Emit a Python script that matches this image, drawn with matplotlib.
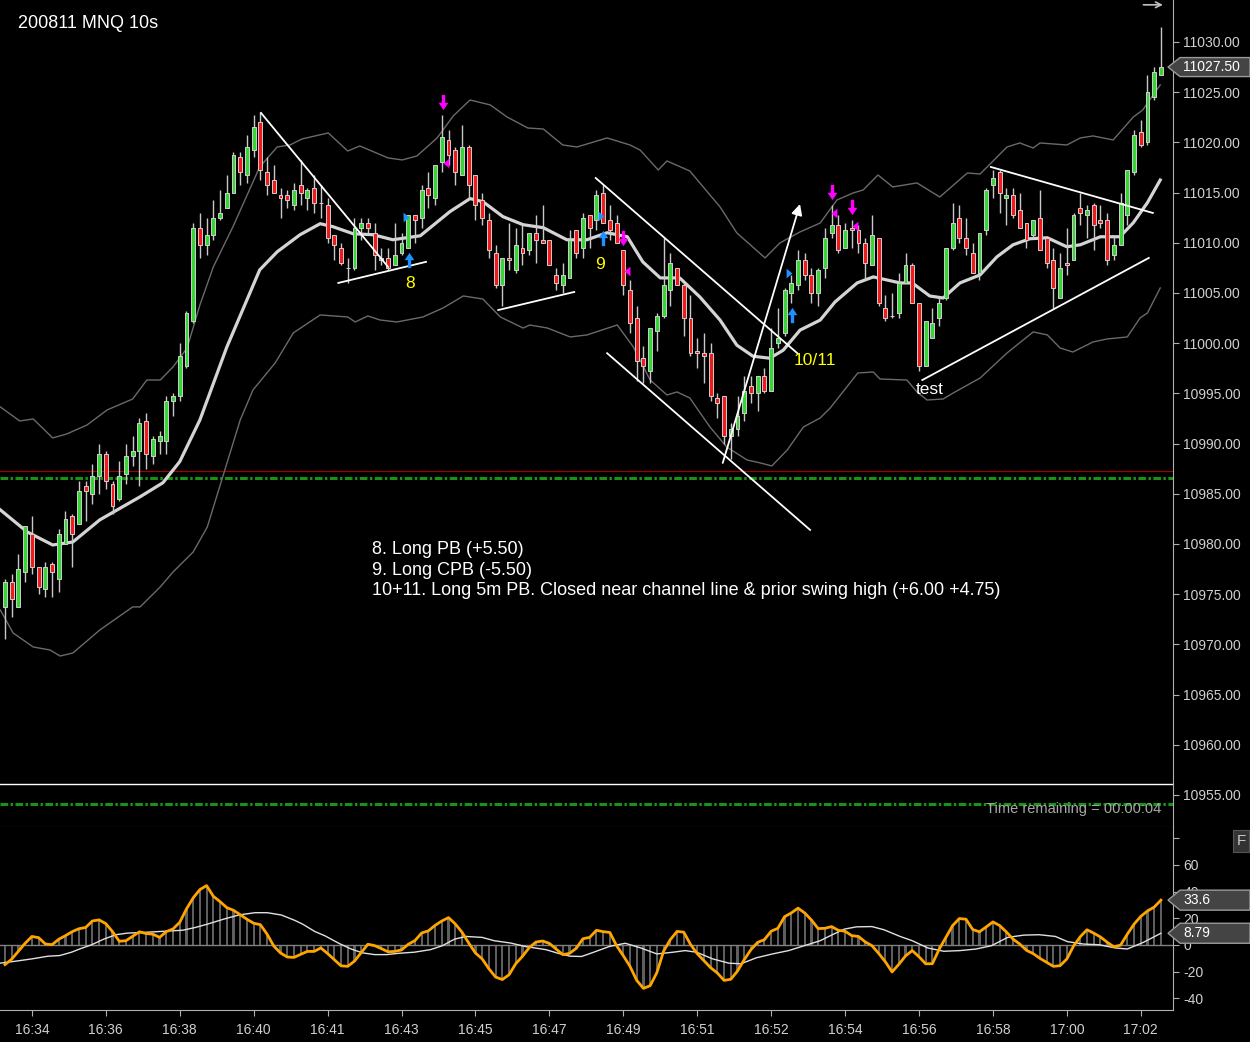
import numpy as np
import matplotlib
matplotlib.use("Agg")
from matplotlib import pyplot as plt
from matplotlib.path import Path
from matplotlib.patches import Polygon, Rectangle
from matplotlib import transforms as mtrans

plt.rcParams['font.family'] = ['Liberation Sans', 'DejaVu Sans']

# 10 second bars, MNQ, 200811
opens = [10973.75, 10976.25, 10973.75, 10977.25, 10981.0, 10977.75, 10975.5, 10978.0, 10976.5, 10980.0,
         10982.75, 10982.0, 10985.75, 10985.0, 10986.75, 10989.0, 10986.0, 10984.5, 10987.0, 10988.75,
         10989.25, 10992.25, 10988.75, 10990.25, 10990.25, 10994.25, 10994.75, 10997.75, 11002.25, 11011.5,
         11009.75, 11010.75, 11012.5, 11013.5, 11015.0, 11018.5, 11016.75, 11019.25, 11022.0, 11017.0,
         11016.25, 11014.75, 11014.75, 11013.75, 11015.75, 11014.5, 11015.5, 11014.0, 11013.75, 11010.75,
         11009.5, 11007.5, 11007.5, 11011.5, 11012.0, 11011.0, 11008.25, 11008.5, 11007.75, 11009.0,
         11009.5, 11012.75, 11012.5, 11015.5, 11014.5, 11018.0, 11020.25, 11019.25, 11016.75, 11019.5,
         11016.75, 11014.25, 11012.25, 11009.0, 11005.75, 11008.5, 11007.25, 11009.5, 11009.25, 11011.0,
         11010.25, 11010.25, 11006.75, 11005.75, 11006.5, 11011.25, 11009.5, 11012.75, 11012.25, 11015.0,
         11012.25, 11012.0, 11009.25, 11005.25, 11002.5, 10998.5, 10997.25, 11001.25, 11002.75, 11005.25,
         11007.5, 11005.75, 11002.5, 10999.25, 10999.0, 10999.0, 10994.5, 10994.75, 10990.75, 10991.5,
         10993.0, 10995.75, 10995.0, 10996.75, 10995.25, 11000.0, 11001.0, 11005.0, 11005.75, 11008.25,
         11006.75, 11005.0, 11007.5, 11011.0, 11011.75, 11009.5, 11011.5, 11011.25, 11010.0, 11007.75,
         11010.5, 11003.5, 11002.75, 11003.0, 11006.0, 11007.75, 11004.0, 10997.75, 11000.5, 11002.5,
         11004.5, 11009.5, 11012.5, 11010.5, 11009.0, 11007.0, 11011.25, 11015.75, 11017.0, 11014.5,
         11014.75, 11013.25, 11012.0, 11010.75, 11012.5, 11010.5, 11008.25, 11004.5, 11008.0, 11008.25,
         11013.5, 11012.75, 11013.75, 11012.25, 11012.25, 11008.75, 11009.75, 11012.75, 11017.0, 11021.0,
         11020.0, 11024.5, 11026.75]
highs = [10976.5, 10977.0, 10979.0, 10981.75, 10982.75, 10977.75, 10978.25, 10978.25, 10981.5, 10983.25,
         10983.0, 10986.25, 10986.25, 10988.0, 10990.0, 10989.25, 10986.25, 10988.25, 10990.0, 10990.75,
         10992.5, 10993.0, 10990.75, 10991.25, 10994.75, 10995.0, 11000.0, 11003.25, 11012.0, 11013.0,
         11012.5, 11014.25, 11015.25, 11016.75, 11019.0, 11019.0, 11020.75, 11022.75, 11023.0, 11018.5,
         11017.75, 11015.5, 11015.25, 11016.0, 11018.25, 11015.5, 11016.75, 11015.75, 11014.5, 11010.75,
         11010.0, 11008.5, 11012.5, 11012.5, 11012.5, 11012.0, 11009.5, 11009.5, 11012.0, 11011.0,
         11012.75, 11012.75, 11015.75, 11017.0, 11017.75, 11022.75, 11021.25, 11019.5, 11021.75, 11019.75,
         11016.75, 11015.0, 11013.0, 11009.75, 11008.5, 11012.0, 11011.5, 11011.75, 11011.0, 11012.75,
         11013.75, 11010.25, 11007.5, 11008.0, 11011.25, 11011.25, 11013.0, 11012.75, 11015.25, 11015.75,
         11013.75, 11012.75, 11009.25, 11006.25, 11003.75, 10999.75, 11001.5, 11003.0, 11010.5, 11009.0,
         11007.5, 11006.0, 11004.75, 11000.5, 11001.0, 11000.0, 10995.0, 10994.75, 10992.0, 10994.75,
         10996.75, 10996.75, 10996.75, 10997.5, 11001.5, 11003.5, 11005.5, 11006.75, 11009.25, 11009.0,
         11007.5, 11007.5, 11011.5, 11013.75, 11012.75, 11012.0, 11012.25, 11011.75, 11010.5, 11012.75,
         11010.5, 11004.75, 11005.0, 11007.0, 11009.0, 11008.0, 11004.0, 11002.25, 11003.5, 11004.5,
         11009.5, 11014.0, 11013.75, 11012.5, 11010.0, 11011.0, 11015.5, 11017.25, 11017.25, 11015.5,
         11015.5, 11015.0, 11012.0, 11012.25, 11015.25, 11010.5, 11009.5, 11009.0, 11011.5, 11013.0,
         11015.0, 11013.75, 11014.0, 11013.75, 11013.0, 11010.75, 11015.0, 11017.25, 11021.25, 11022.25,
         11026.75, 11027.5, 11031.5]
lows = [10970.5, 10972.75, 10973.75, 10976.25, 10977.0, 10975.0, 10974.75, 10974.75, 10975.25, 10980.0,
        10977.75, 10982.0, 10982.25, 10984.0, 10985.0, 10985.5, 10983.0, 10984.25, 10986.0, 10987.75,
        10985.75, 10987.5, 10988.0, 10989.0, 10989.0, 10992.75, 10994.25, 10997.5, 11002.0, 11008.5,
        11008.75, 11010.25, 11012.25, 11013.5, 11015.0, 11015.75, 11016.0, 11018.5, 11016.25, 11014.75,
        11015.0, 11012.5, 11013.5, 11013.25, 11013.75, 11013.25, 11013.0, 11012.5, 11010.0, 11008.25,
        11007.75, 11006.0, 11007.25, 11010.25, 11011.0, 11007.25, 11007.75, 11007.25, 11007.75, 11008.75,
        11009.5, 11010.0, 11011.5, 11013.5, 11013.75, 11017.0, 11017.75, 11015.75, 11016.75, 11014.5,
        11012.25, 11011.75, 11008.5, 11005.5, 11003.75, 11007.25, 11007.0, 11007.75, 11008.75, 11008.0,
        11010.0, 11007.75, 11005.25, 11005.0, 11006.5, 11008.5, 11008.5, 11009.5, 11011.25, 11012.0,
        11010.25, 11010.0, 11004.75, 11001.0, 10996.25, 10996.0, 10996.0, 10999.25, 11002.5, 11003.75,
        11005.75, 11000.75, 10998.75, 10997.5, 10996.0, 10994.25, 10992.5, 10990.0, 10988.5, 10990.75,
        10992.25, 10994.0, 10993.25, 10995.0, 10995.25, 10999.5, 11000.75, 11004.0, 11005.25, 11006.25,
        11004.0, 11003.75, 11006.5, 11010.5, 11009.0, 11009.5, 11009.5, 11009.0, 11006.25, 11007.75,
        11003.75, 11002.25, 11002.5, 11002.5, 11006.0, 11004.0, 10997.25, 10997.75, 11000.5, 11001.75,
        11004.25, 11009.25, 11010.0, 11008.75, 11007.0, 11006.25, 11010.75, 11014.5, 11013.0, 11011.75,
        11012.5, 11011.5, 11009.5, 11010.5, 11009.25, 11007.5, 11003.5, 11004.5, 11006.75, 11008.25,
        11011.75, 11010.5, 11009.25, 11011.5, 11007.75, 11008.25, 11009.75, 11011.75, 11016.75, 11019.5,
        11019.75, 11024.25, 11026.75]
closes = [10976.25, 10974.5, 10977.5, 10981.75, 10977.75, 10975.75, 10977.75, 10977.25, 10981.0, 10982.5,
          10981.0, 10985.25, 10985.25, 10986.75, 10989.0, 10986.25, 10983.75, 10986.75, 10988.75, 10989.25,
          10992.0, 10989.0, 10990.5, 10990.75, 10994.25, 10994.75, 10998.75, 11003.0, 11011.5, 11009.75,
          11010.75, 11012.5, 11013.0, 11015.0, 11018.75, 11017.0, 11019.5, 11021.5, 11017.25, 11015.75,
          11015.0, 11014.5, 11014.25, 11015.25, 11015.0, 11015.25, 11014.0, 11014.0, 11010.5, 11009.75,
          11008.0, 11007.5, 11011.5, 11012.0, 11011.5, 11008.75, 11008.5, 11007.5, 11008.75, 11010.0,
          11012.75, 11012.25, 11015.25, 11014.75, 11017.75, 11020.5, 11018.75, 11017.0, 11019.5, 11015.75,
          11013.75, 11012.5, 11009.25, 11005.75, 11008.5, 11008.25, 11009.75, 11009.0, 11011.0, 11010.25,
          11010.0, 11007.75, 11006.0, 11006.75, 11010.25, 11009.0, 11012.5, 11011.5, 11014.75, 11012.0,
          11011.25, 11010.0, 11005.75, 11002.0, 10998.25, 10997.75, 11001.5, 11002.75, 11005.75, 11008.0,
          11005.75, 11002.5, 10999.0, 10999.0, 10998.75, 10994.75, 10994.0, 10990.75, 10991.5, 10992.75,
          10995.25, 10995.0, 10996.75, 10995.25, 10999.5, 11000.5, 11005.25, 11006.0, 11008.25, 11006.75,
          11005.0, 11007.25, 11010.5, 11011.75, 11009.25, 11011.25, 11011.25, 11010.0, 11008.0, 11010.75,
          11004.0, 11002.5, 11002.75, 11006.0, 11007.75, 11004.0, 10997.75, 11002.25, 11002.0, 11004.0,
          11009.5, 11012.0, 11010.5, 11009.5, 11007.0, 11011.0, 11015.25, 11016.5, 11015.0, 11014.75,
          11012.75, 11011.5, 11010.25, 11012.25, 11009.25, 11008.0, 11005.5, 11007.5, 11007.75, 11012.75,
          11013.0, 11013.25, 11011.75, 11012.0, 11008.25, 11009.75, 11014.0, 11017.25, 11020.75, 11019.75,
          11025.0, 11027.0, 11027.5]

# moving average and bands, read at points along the lines (bar index, price)
ema_idx = [-0.7, 3.3, 7.1, 10.1, 14.1, 20.1, 23.5, 26.0, 29.0, 33.0, 37.9, 40.5, 43.9, 46.9, 48.8,
           51.8, 54.8, 57.7, 61.8, 66.2, 69.2, 71.1, 74.1, 77.1, 80.1, 83.6, 86.6, 89.6, 92.6, 94.9,
           97.5, 100.4, 103.4, 106.4, 108.9, 111.3, 113.8, 115.8, 118.3, 121.3, 123.5, 126.8, 129.2, 131.2, 133.2,
           135.0, 137.6, 139.6, 142.1, 145.1, 147.6, 150.0, 152.5, 155.1, 158.0, 160.0, 163.0, 165.9, 167.9, 170.0,
           171.9]
ema_val = [10983.4, 10981.2, 10979.9, 10980.2, 10982.4, 10984.7, 10986.1, 10988.2, 10992.35, 10999.6,
           11007.3, 11009.1, 11010.8, 11011.9, 11011.6, 11010.9, 11010.8, 11010.3, 11010.7, 11013.1,
           11014.4, 11014.1, 11012.6, 11011.8, 11011.5, 11010.3, 11010.3, 11011.0, 11010.6, 11008.1,
           11006.5, 11006.5, 11004.6, 11002.3, 10999.8, 10998.7, 10998.5, 10999.3, 11001.3, 11002.3,
           11004.1, 11006.0, 11006.6, 11006.3, 11006.0, 11006.0, 11004.7, 11004.5, 11006.0, 11006.8,
           11008.6, 11009.8, 11010.4, 11010.5, 11009.6, 11009.8, 11010.6, 11010.6, 11012.0, 11014.0,
           11016.25]
upper_idx = [-0.7, 2.2, 4.2, 7.1, 9.2, 12.2, 15.2, 19.0, 21.1, 23.1, 25.0, 27.1, 29.0, 31.0, 33.9,
             37.9, 40.5, 42.4, 44.2, 48.1, 51.0, 52.8, 57.0, 59.1, 61.3, 64.3, 66.7, 69.2, 72.2, 74.7,
             77.8, 80.1, 83.0, 85.1, 89.6, 93.0, 94.5, 97.2, 98.5, 101.9, 106.4, 108.9, 113.1, 115.3, 118.3,
             121.3, 123.8, 126.2, 127.7, 129.9, 132.1, 135.7, 139.1, 143.2, 145.1, 149.1, 151.0, 153.0, 154.0, 158.0,
             160.0, 161.9, 164.9, 167.9, 169.3, 171.9]
upper_val = [10993.65, 10992.25, 10992.45, 10990.56, 10990.96, 10991.85, 10993.35, 10994.44, 10996.33, 10996.33,
             10997.63, 10999.52, 11003.8, 11007.6, 11011.57, 11017.55, 11019.54, 11019.74, 11020.34, 11020.94,
             11019.14, 11019.64, 11018.45, 11018.25, 11018.65, 11020.44, 11022.63, 11024.22, 11023.73, 11022.53,
             11021.43, 11021.33, 11019.74, 11019.54, 11020.44, 11019.74, 11019.24, 11017.25, 11018.15, 11017.15,
             11013.57, 11010.98, 11008.49, 11009.98, 11011.08, 11011.97, 11014.26, 11014.96, 11015.26, 11016.75,
             11015.56, 11015.96, 11014.56, 11016.95, 11016.85, 11019.54, 11019.94, 11019.44, 11019.94, 11019.74,
             11020.44, 11020.64, 11020.24, 11022.53, 11023.23, 11025.72]
lower_idx = [-0.7, 1.2, 4.2, 6.7, 8.2, 10.1, 14.1, 19.0, 20.1, 23.1, 25.0, 28.0, 30.1, 35.0, 36.9,
             40.2, 42.9, 46.9, 51.0, 52.1, 54.0, 55.8, 58.3, 62.2, 65.2, 68.2, 71.1, 73.7, 77.1, 78.1,
             80.7, 84.1, 86.6, 91.1, 93.5, 96.0, 98.5, 100.0, 101.9, 104.9, 107.4, 110.4, 112.4, 114.1, 116.4,
             118.8, 121.3, 122.8, 126.9, 129.2, 130.2, 134.2, 135.7, 137.2, 139.6, 141.1, 145.1, 149.1, 153.0, 155.1,
             157.0, 158.9, 160.4, 161.9, 164.0, 167.0, 168.9, 170.0, 171.9]
lower_val = [10973.43, 10971.14, 10969.74, 10969.44, 10968.84, 10969.14, 10971.43, 10973.73, 10973.73, 10975.72,
             10977.21, 10979.2, 10981.69, 10992.35, 10995.34, 10998.03, 11001.02, 11002.81, 11002.61, 11002.11,
             11002.71, 11002.31, 11002.11, 11002.61, 11003.51, 11004.7, 11004.4, 11002.61, 11001.51, 11001.81,
             11001.51, 11000.62, 11000.82, 11001.81, 10999.62, 10996.33, 10994.84, 10995.14, 10994.54, 10991.65,
             10989.66, 10988.37, 10988.07, 10987.77, 10989.36, 10991.65, 10992.55, 10993.55, 10997.03, 10997.13,
             10996.43, 10996.33, 10995.14, 10994.34, 10994.44, 10995.04, 10996.53, 10999.02, 11001.12, 11000.82,
             10999.52, 10999.12, 10999.62, 11000.12, 11000.42, 11000.62, 11002.51, 11003.01, 11005.5]

# oscillator, one value per bar, and its signal line
osc_vals = [-14.7, -10.6, -4.6, 1.3, 6.4, 5.5, 0.8, 0.2, 4.3, 7.0,
            10.0, 12.2, 13.1, 18.0, 18.8, 16.0, 10.0, 2.8, 3.2, 6.6,
            9.9, 8.6, 8.1, 5.7, 10.0, 12.0, 17.0, 27.0, 35.3, 41.5,
            44.5, 36.5, 32.5, 28.0, 26.0, 22.7, 19.3, 16.3, 15.2, 8.1,
            -0.8, -6.0, -9.0, -9.3, -7.0, -4.8, -4.8, -2.2, -6.4, -11.0,
            -15.6, -16.0, -12.1, -5.8, 0.6, -0.5, -2.7, -5.1, -4.8, -3.7,
            0.5, 3.3, 9.0, 10.6, 14.7, 18.0, 20.5, 15.8, 9.6, 1.5,
            -6.0, -10.4, -17.8, -24.0, -25.9, -22.3, -14.0, -8.5, -2.0, 2.2,
            3.0, 1.2, -3.0, -7.2, -6.3, -2.5, 4.7, 5.7, 11.0, 10.0,
            9.4, -0.5, -8.0, -16.0, -26.5, -32.5, -30.5, -20.7, -4.6, 4.0,
            10.2, 9.6, 0.5, -6.5, -11.8, -17.0, -21.0, -26.5, -25.7, -19.5,
            -11.0, -3.5, 2.0, 4.0, 10.3, 12.5, 21.2, 24.0, 27.6, 24.0,
            18.7, 12.3, 12.5, 13.8, 11.0, 10.3, 7.0, 6.4, 2.3, -0.5,
            -6.3, -12.6, -20.2, -14.5, -8.2, -4.2, -8.8, -14.1, -14.0, -3.2,
            5.7, 14.5, 19.8, 19.3, 11.6, 9.9, 13.5, 17.3, 14.6, 9.8,
            4.4, 0.7, -4.0, -6.5, -10.0, -13.0, -16.0, -15.5, -10.5, -0.8,
            6.2, 11.4, 8.9, 6.0, 2.1, -1.4, -0.1, 8.1, 15.6, 21.4,
            25.5, 28.4, 33.6]
sig_idx = [-0.74, 1.63, 4.0, 6.4, 8.15, 9.9, 11.1, 12.9, 14.7, 16.5, 18.2, 20.6, 23.0, 24.8, 26.5,
           28.3, 30.1, 32.5, 34.8, 37.2, 39.0, 41.1, 43.1, 44.3, 46.1, 47.6, 49.7, 51.5, 53.2, 55.0,
           56.8, 58.6, 60.9, 63.3, 65.1, 66.9, 68.6, 71.0, 72.8, 75.2, 77.5, 80.5, 82.3, 84.1, 85.8,
           87.6, 90.0, 92.3, 94.6, 97.0, 99.4, 101.2, 102.9, 105.3, 107.7, 109.5, 111.8, 114.2, 116.6, 118.95,
           121.3, 123.1, 124.9, 126.7, 129.0, 130.8, 133.2, 135.0, 137.3, 139.7, 142.1, 144.5, 146.8, 149.2,
           151.6, 153.9, 156.3, 158.1, 160.5, 162.8, 165.2, 167.0, 169.4, 172.0]
sig_val = [-13.6, -12.1, -10.4, -8.4, -7.9, -5.4, -3.0, 0.2, 4.4, 7.7, 8.9, 9.4, 10.1, 10.6, 11.1,
           13.1, 15.6, 19.3, 22.5, 24.2, 24.2, 22.5, 18.5, 15.6, 10.1, 6.9, 1.2, -3.0, -5.9, -7.2,
           -7.2, -6.2, -5.4, -3.5, -0.5, 4.4, 6.4, 5.7, 3.2, 1.5, -1.2, -3.5, -6.2, -8.4, -8.6,
           -5.4, -1.0, 1.3, -2.2, -6.7, -5.4, -4.2, -5.4, -10.4, -13.6, -14.1, -9.6, -6.7, -4.2, -0.5,
           3.2, 7.7, 11.9, 13.6, 13.8, 11.4, 6.4, 3.2, -2.2, -4.7, -4.2, -3.0, -0.5, 5.7,
           7.4, 7.7, 6.4, 2.5, 0.7, 0.2, -2.2, -3.0, 2.0, 8.79]

time_idx = [4, 15, 26, 37, 48, 59, 70, 81, 92, 103, 114, 125, 136, 147, 158, 169]
time_labels = ['16:34', '16:36', '16:38', '16:40', '16:41', '16:43', '16:45', '16:47',
               '16:49', '16:51', '16:52', '16:54', '16:56', '16:58', '17:00', '17:02']

# drawn trend lines (bar index, price)
trend_x0 = [38.1, 49.6, 73.4, 87.9, 89.6, 146.7, 136.5]
trend_y0 = [11022.93, 11006.0, 11003.3, 11016.45, 10999.0, 11017.55, 10996.33]
trend_x1 = [57.0, 62.65, 84.7, 117.9, 119.8, 170.8, 170.2]
trend_y1 = [11007.6, 11008.1, 11005.1, 10999.0, 10981.4, 11012.97, 11008.49]

# signal markers
sell_idx = [65.2, 92.0, 123.1, 126.0]
sell_px = [11024.0, 11010.5, 11015.1, 11013.6]
sell_tri_idx = [65.6, 92.6, 123.4, 126.5]
sell_tri_px = [11017.95, 11007.2, 11012.97, 11011.67]
buy_idx = [60.1, 89.0, 117.1]
buy_px = [11008.3, 11010.5, 11002.8]
buy_tri_idx = [59.7, 88.7, 116.7]
buy_tri_px = [11012.6, 11012.7, 11007.0]

notes = ["8. Long PB (+5.50)", "9. Long CPB (-5.50)",
         "10+11. Long 5m PB. Closed near channel line & prior swing high (+6.00 +4.75)"]
notes_px = [10979.4, 10977.4, 10975.4]

W, H = 1250, 1042
fig = plt.figure(figsize=(W / 100, H / 100), dpi=100, facecolor='black')
ax = fig.add_axes([0, 1 - 827 / H, 1173 / W, 827 / H], facecolor='black')
osc = fig.add_axes([0, 1 - 1010 / H, 1173 / W, 183 / H], facecolor='black', sharex=ax)

idx = np.arange(len(closes))
o = np.array(opens); c = np.array(closes)
hi = np.array(highs); lo = np.array(lows)

# bands
ax.plot(upper_idx, upper_val, color='#6a6a6a', lw=1.0, zorder=1)
ax.plot(lower_idx, lower_val, color='#6a6a6a', lw=1.0, zorder=1)
ax.plot(ema_idx, ema_val, color='#d4d4d4', lw=2.3, zorder=1)

# reference lines
ax.axhline(10987.27, color='#a00000', lw=0.8, zorder=0.5)
ax.axhline(10986.57, color='#169416', lw=2.2, ls=(0, (2.5, 0.8, 0.8, 0.8)), zorder=0.5)
ax.axhline(10954.1, color='#169416', lw=2.2, ls=(0, (2.5, 0.8, 0.8, 0.8)), zorder=0.5)
ax.axhline(10956.1, color='white', lw=1.0, zorder=0.5)

# candles
ax.vlines(idx, lo, hi, color='#c8c8c8', lw=1.0, zorder=2)
cols = np.where(c > o, '#33d633', np.where(c < o, '#f01a1a', '#c8c8c8'))
ax.bar(idx, np.abs(c - o), bottom=np.minimum(o, c), width=0.58, color=cols,
       edgecolor='#cfcfcf', linewidth=0.7, zorder=3)

# trend lines
for x0, y0, x1, y1 in zip(trend_x0, trend_y0, trend_x1, trend_y1):
    ax.plot([x0, x1], [y0, y1], color='white', lw=1.3, zorder=4)
ax.annotate('', xy=(118.3, 11013.86), xytext=(106.8, 10988.07),
            arrowprops=dict(arrowstyle='-|>', color='white', lw=1.3, mutation_scale=16,
                            shrinkA=0, shrinkB=0), zorder=4)

# marker shapes
up = Path([(0, 0.5), (0.32, 0.02), (0.11, 0.02), (0.11, -0.5), (-0.11, -0.5), (-0.11, 0.02),
           (-0.32, 0.02), (0, 0.5)], closed=True)
down = Path([(0, -0.5), (0.32, -0.02), (0.11, -0.02), (0.11, 0.5), (-0.11, 0.5), (-0.11, -0.02),
             (-0.32, -0.02), (0, -0.5)], closed=True)
left = Path([(0.3, 0.5), (-0.3, 0), (0.3, -0.5), (0.3, 0.5)], closed=True)
right = Path([(-0.3, 0.5), (0.3, 0), (-0.3, -0.5), (-0.3, 0.5)], closed=True)
ax.plot(sell_idx, sell_px, ls='none', marker=down, ms=11, color='#ff00ff', mec='none', zorder=5)
ax.plot(sell_tri_idx, sell_tri_px, ls='none', marker=left, ms=7, color='#ff00ff', mec='none', zorder=5)
ax.plot(buy_idx, buy_px, ls='none', marker=up, ms=11, color='#1e90ff', mec='none', zorder=5)
ax.plot(buy_tri_idx, buy_tri_px, ls='none', marker=right, ms=7, color='#1e90ff', mec='none', zorder=5)

# labels
ax.text(60.3, 11005.9, '8', color='#ffff00', fontsize=12.5, ha='center', va='center', zorder=6)
ax.text(88.5, 11007.8, '9', color='#ffff00', fontsize=12.5, ha='center', va='center', zorder=6)
ax.text(120.5, 10998.3, '10/11', color='#ffff00', fontsize=12.5, ha='center', va='center', zorder=6)
ax.text(137.6, 10995.4, 'test', color='white', fontsize=12.5, ha='center', va='center', zorder=6)
for line, py in zip(notes, notes_px):
    ax.text(54.6, py, line, color='white', fontsize=13, ha='left', va='center', zorder=6)
ax.text(172.0, 10953.6, 'Time remaining = 00:00:04', color='#a8a8a8', fontsize=10.5,
        ha='right', va='center', zorder=6)
ax.annotate('', xy=(172.3, 11033.7), xytext=(169.4, 11033.7),
            arrowprops=dict(arrowstyle='->', color='#c0c0c0', lw=1.2, mutation_scale=10,
                            shrinkA=0, shrinkB=0), zorder=6)
fig.text(18 / W, 1 - 23 / H, '200811 MNQ 10s', color='white', fontsize=13, ha='left', va='center')

# main axis styling
ax.set_xlim(-0.744, 173.8)
ax.set_ylim(10951.81, 11034.18)
ax.yaxis.tick_right()
ax.set_yticks(np.arange(10955, 11031, 5))
ax.set_yticklabels(['%.2f' % v for v in np.arange(10955, 11031, 5)])
ax.tick_params(axis='y', colors='#b0b0b0', labelcolor='#d0d0d0', labelsize=10, length=4.5, pad=3)
ax.tick_params(axis='x', bottom=False, labelbottom=False)
for s in ['left', 'top']:
    ax.spines[s].set_visible(False)
ax.spines['right'].set_color('#b0b0b0')
ax.spines['bottom'].set_color('#555555')

# oscillator
osc.bar(idx, osc_vals, width=0.32, color='#5e5e5e', zorder=1)
osc.axhline(0, color='#808080', lw=1.0, zorder=1.5)
osc.plot(sig_idx, sig_val, color='#e0e0e0', lw=1.0, zorder=2)
osc.plot(idx, osc_vals, color='#ffa500', lw=2.0, zorder=3)
osc.set_ylim(-48.7, 88.4)
osc.yaxis.tick_right()
osc.set_yticks([-40, -20, 0, 20, 40, 60, 80])
osc.set_yticklabels(['-40', '-20', '0', '20', '40', '60', ''])
osc.tick_params(axis='y', colors='#b0b0b0', labelcolor='#d0d0d0', labelsize=10, length=4.5, pad=3)
osc.set_xticks(time_idx)
osc.set_xticklabels(time_labels)
osc.tick_params(axis='x', colors='#b0b0b0', labelcolor='#d0d0d0', labelsize=10, length=4.5, pad=5)
for s in ['left', 'top']:
    osc.spines[s].set_visible(False)
osc.spines['right'].set_color('#b0b0b0')
osc.spines['bottom'].set_color('#b0b0b0')


def tag(axis, value, text, h):
    # value box on the right axis, with a pointed left side
    blend = mtrans.blended_transform_factory(axis.transAxes, axis.transData)
    tr = fig.dpi_scale_trans + mtrans.ScaledTranslation(1.0, value, blend)
    pts = np.array([(-5, 0), (7, h / 2), (77, h / 2), (77, -h / 2), (7, -h / 2)]) / 100.0
    axis.add_patch(Polygon(pts, closed=True, transform=tr, facecolor='#444444',
                           edgecolor='#9a9a9a', lw=1.0, zorder=10, clip_on=False))
    axis.annotate(text, xy=(1.0, value), xycoords=blend, xytext=(7.2, 0),
                  textcoords='offset points', ha='left', va='center', color='white',
                  fontsize=10, annotation_clip=False, zorder=11)


tag(ax, 11027.5, '11027.50', 19)
tag(osc, 33.6, '33.6', 20)
tag(osc, 8.79, '8.79', 20)

fig.patches.append(Rectangle((1233 / W, 1 - 852 / H), 16 / W, 22 / H, transform=fig.transFigure,
                             facecolor='#333333', edgecolor='#555555', lw=0.8))
fig.text(1241 / W, 1 - 841 / H, 'F', color='#c8c8c8', fontsize=11, ha='center', va='center')

fig.savefig('out.png', dpi=100, facecolor='black')
